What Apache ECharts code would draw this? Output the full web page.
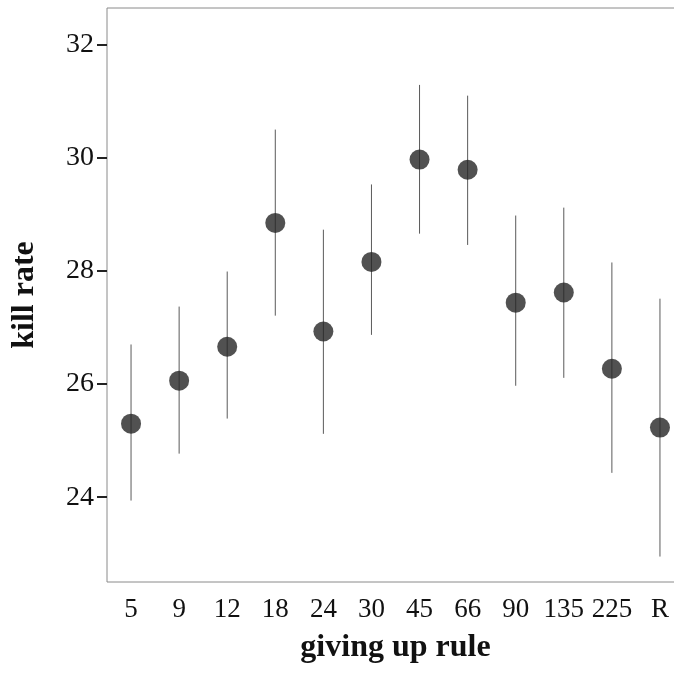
<!DOCTYPE html>
<html lang="en">
<head>
    <meta charset="UTF-8">
    <title>kill rate</title>
    <style>
        *{
            padding:0;
            margin:0;
        }
    </style>
    <script src="https://cdn.jsdelivr.net/npm/echarts@6/dist/echarts.min.js"></script>
</head>
<body>
    <div id="main" style="width: 674px;height: 676px;"></div>
    <script>
        // giving up rules (x categories)
        var rules = ['5', '9', '12', '18', '24', '30', '45', '66', '90', '135', '225', 'R'];
        // mean kill rate and error bar ends
        var means = [25.30, 26.06, 26.66, 28.85, 26.93, 28.16, 29.97, 29.79, 27.44, 27.62, 26.27, 25.23];
        var lows  = [23.94, 24.77, 25.39, 27.21, 25.12, 26.87, 28.66, 28.46, 25.97, 26.11, 24.43, 22.95];
        var highs = [26.70, 27.37, 27.99, 30.50, 28.73, 29.53, 31.29, 31.10, 28.98, 29.12, 28.15, 27.51];
        var yTicks = [24, 26, 28, 30, 32];

        var barData = [];
        for (var i = 0; i < rules.length; i++) {
            barData.push([i, lows[i], highs[i]]);
        }

        var myChart = echarts.init(document.getElementById('main'));
        var serif = '"Liberation Serif", "DejaVu Serif", serif';

        var option = {
            backgroundColor: '#fff',
            animation: false,
            grid: {
                left: 107,
                top: 8,
                right: -10,
                bottom: 94,
                outerBoundsMode: 'none',
                containLabel: false,
                show: true,
                borderColor: '#8a8a8a',
                borderWidth: 1
            },
            xAxis: {
                type: 'category',
                data: rules,
                boundaryGap: true,
                name: 'giving up rule',
                nameLocation: 'middle',
                nameGap: 50,
                nameTextStyle: {
                    fontFamily: serif,
                    fontWeight: 'bold',
                    fontSize: 32,
                    color: '#111'
                },
                axisLine: { show: false },
                axisTick: {
                    alignWithLabel: true,
                    length: 8,
                    lineStyle: { color: '#222', width: 2 }
                },
                axisLabel: {
                    fontFamily: serif,
                    fontSize: 27,
                    color: '#111',
                    margin: 14,
                    interval: 0
                },
                splitLine: { show: false }
            },
            yAxis: {
                type: 'value',
                min: 22.5,
                max: 32.65,
                name: 'kill rate',
                nameLocation: 'middle',
                nameGap: 66,
                nameRotate: 90,
                nameTextStyle: {
                    fontFamily: serif,
                    fontWeight: 'bold',
                    fontSize: 32,
                    color: '#111'
                },
                axisLine: { show: false },
                axisTick: {
                    show: true,
                    length: 10,
                    customValues: yTicks,
                    lineStyle: { color: '#222', width: 2 }
                },
                axisLabel: {
                    fontFamily: serif,
                    fontSize: 28,
                    color: '#111',
                    margin: 13,
                    customValues: yTicks
                },
                splitLine: { show: false }
            },
            series: [
                {
                    type: 'custom',
                    data: barData,
                    renderItem: function (params, api) {
                        var a = api.coord([api.value(0), api.value(1)]);
                        var b = api.coord([api.value(0), api.value(2)]);
                        return {
                            type: 'line',
                            shape: { x1: a[0], y1: a[1], x2: b[0], y2: b[1] },
                            style: { stroke: '#5a5a5a', lineWidth: 1 }
                        };
                    },
                    z: 1
                },
                {
                    type: 'scatter',
                    data: means,
                    symbol: 'circle',
                    symbolSize: 20,
                    itemStyle: { color: '#262626' },
                    z: 2
                }
            ]
        };
        myChart.setOption(option);
    </script>
</body>
</html>
